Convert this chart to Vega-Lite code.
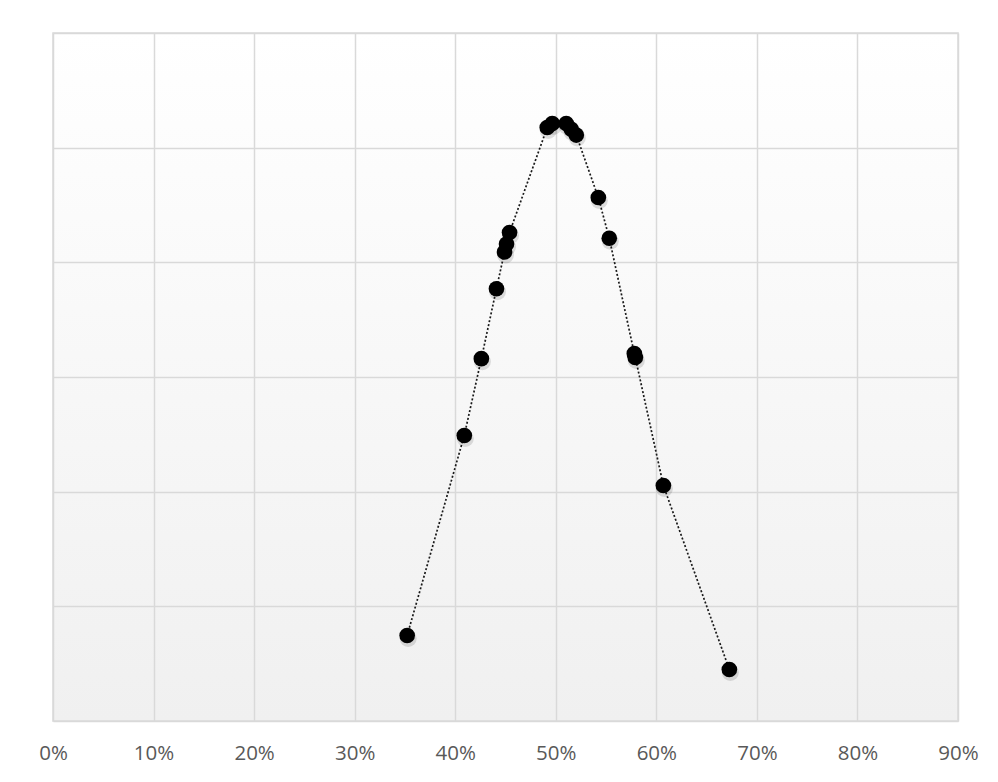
{
  "$schema": "https://vega.github.io/schema/vega-lite/v6.json",
  "width": 905,
  "height": 688,
  "padding": {"left": 38, "top": 33, "right": 36, "bottom": 5},
  "background": "#ffffff",
  "config": {
    "view": {
      "stroke": "#d9d9d9",
      "strokeWidth": 1.5,
      "fill": {
        "gradient": "linear",
        "x1": 0, "y1": 0, "x2": 0, "y2": 1,
        "stops": [
          {"offset": 0, "color": "#ffffff"},
          {"offset": 1, "color": "#f0f0f0"}
        ]
      }
    },
    "axis": {"gridColor": "#d9d9d9", "gridWidth": 1.5, "gridOpacity": 1}
  },
  "data": {
    "values": [
      {"share": 0.3522, "value": 0.746},
      {"share": 0.409, "value": 2.49},
      {"share": 0.426, "value": 3.16},
      {"share": 0.441, "value": 3.77},
      {"share": 0.449, "value": 4.09},
      {"share": 0.451, "value": 4.16},
      {"share": 0.454, "value": 4.26},
      {"share": 0.4915, "value": 5.176},
      {"share": 0.4965, "value": 5.21},
      {"share": 0.5104, "value": 5.21},
      {"share": 0.5154, "value": 5.16},
      {"share": 0.5204, "value": 5.11},
      {"share": 0.5423, "value": 4.565},
      {"share": 0.5532, "value": 4.21},
      {"share": 0.5781, "value": 3.205},
      {"share": 0.5791, "value": 3.17},
      {"share": 0.607, "value": 2.054},
      {"share": 0.6726, "value": 0.449}
    ]
  },
  "encoding": {
    "x": {
      "field": "share",
      "type": "quantitative",
      "scale": {"domain": [0, 0.9], "nice": false, "zero": false},
      "axis": {
        "values": [0, 0.1, 0.2, 0.3, 0.4, 0.5, 0.6, 0.7, 0.8, 0.9],
        "format": ".0%",
        "title": null,
        "domain": false,
        "ticks": false,
        "labelPadding": 22,
        "labelFont": "Open Sans",
        "labelFontSize": 20.5,
        "labelColor": "#595959",
        "labelFlush": false
      }
    },
    "y": {
      "field": "value",
      "type": "quantitative",
      "scale": {"domain": [0, 6], "nice": false},
      "axis": {
        "values": [0, 1, 2, 3, 4, 5, 6],
        "labels": false,
        "ticks": false,
        "domain": false,
        "title": null
      }
    }
  },
  "layer": [
    {
      "mark": {"type": "line", "color": "#1a1a1a", "strokeWidth": 1.7, "strokeDash": [2, 2]},
      "encoding": {"order": {"field": "share", "type": "quantitative"}}
    },
    {
      "mark": {"type": "circle", "color": "#000000", "opacity": 0.12, "size": 290, "yOffset": 3, "xOffset": 1}
    },
    {
      "mark": {"type": "circle", "color": "#000000", "opacity": 1, "size": 245}
    }
  ]
}
